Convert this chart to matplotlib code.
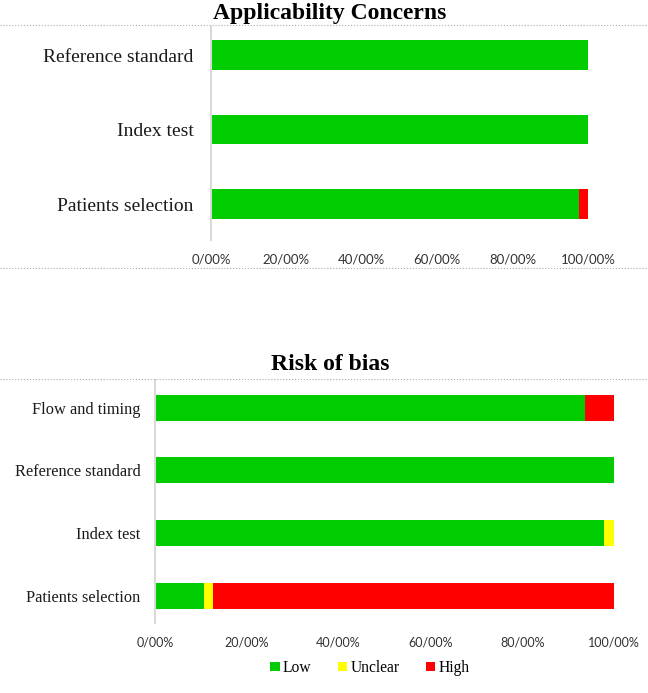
import matplotlib
matplotlib.use("Agg")
import matplotlib.pyplot as plt
from matplotlib.lines import Line2D
from matplotlib.patches import Patch

plt.rcParams['font.family'] = ['Liberation Serif', 'DejaVu Serif']

# Data (percent)
app_categories = ["Patients selection", "Index test", "Reference standard"]
app_low = [97.6, 100.0, 100.0]
app_unclear = [0.0, 0.0, 0.0]
app_high = [2.4, 0.0, 0.0]

rob_categories = ["Patients selection", "Index test", "Reference standard", "Flow and timing"]
rob_low = [10.7, 97.8, 100.0, 93.7]
rob_unclear = [1.9, 2.2, 0.0, 0.0]
rob_high = [87.4, 0.0, 0.0, 6.3]

tick_vals = [0, 20, 40, 60, 80, 100]
tick_labels = ["0/00%", "20/00%", "40/00%", "60/00%", "80/00%", "100/00%"]
legend_labels = ["Low", "Unclear", "High"]
colors = ["#00CC00", "#FFFF00", "#FF0000"]

W, H = 648, 693
fig = plt.figure(figsize=(W / 100, H / 100), dpi=100)

def ax_rect(left, right, top, bottom):
    return [left / W, 1 - bottom / H, (right - left) / W, (bottom - top) / H]

def draw(ax, cats, low, unc, high, height, ylim, labsize, ticksize, ypad):
    y = list(range(len(cats)))
    lefts = [0] * len(cats)
    for vals, c in zip([low, unc, high], colors):
        ax.barh(y, vals, left=lefts, height=height, color=c, edgecolor='none')
        lefts = [a + b for a, b in zip(lefts, vals)]
    ax.set_xlim(0, 100)
    ax.set_ylim(*ylim)
    ax.set_yticks(y)
    ax.set_yticklabels(cats, fontsize=labsize, color='#1a1a1a')
    ax.set_xticks(tick_vals)
    ax.set_xticklabels(tick_labels, fontsize=ticksize, color='#333333',
                       family=['Lato', 'DejaVu Sans'])
    for s in ['top', 'right', 'bottom']:
        ax.spines[s].set_visible(False)
    ax.spines['left'].set_color('#D9D9D9')
    ax.spines['left'].set_linewidth(1.5)
    ax.tick_params(axis='both', length=0)
    ax.tick_params(axis='y', pad=ypad)
    ax.tick_params(axis='x', pad=10)

# Top panel
ax1 = fig.add_axes(ax_rect(211, 588, 27, 240))
draw(ax1, app_categories, app_low, app_unclear, app_high, 0.40, (-0.483, 2.376), 14, 9.5, 12.5)

# Bottom panel
ax2 = fig.add_axes(ax_rect(155, 614, 380, 623))
draw(ax2, rob_categories, rob_low, rob_unclear, rob_high, 0.415, (-0.43, 3.44), 11.8, 9, 10.5)

# Titles
fig.text(330 / W, 1 - 13 / H, "Applicability Concerns", ha='center', va='center',
         fontsize=17, fontweight='bold')
fig.text(330 / W, 1 - 365 / H, "Risk of bias", ha='center', va='center',
         fontsize=17, fontweight='bold')

# Dotted separators
for yp in [25, 268, 379]:
    fig.add_artist(Line2D([0, 1], [1 - yp / H, 1 - yp / H], transform=fig.transFigure,
                          color='#AAAAAA', linestyle=':', linewidth=0.8))

# Legend
handles = [Patch(facecolor=c, edgecolor='none') for c in colors]
fig.legend(handles, legend_labels, loc='center', bbox_to_anchor=(370 / W, 1 - 668 / H),
           ncol=3, frameon=False, fontsize=11.2, handlelength=0.6, handleheight=0.6,
           handletextpad=0.2, columnspacing=1.7)

fig.savefig("out.png", dpi=100)
